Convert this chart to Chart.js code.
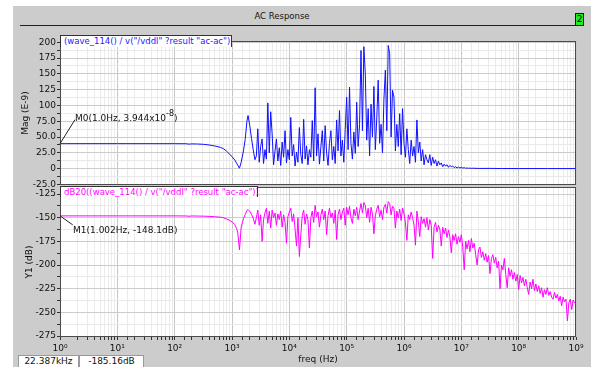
<!DOCTYPE html>
<html>
<head>
<meta charset="utf-8">
<script src="https://cdn.jsdelivr.net/npm/chart.js@4.4.1/dist/chart.umd.min.js"></script>
<style>
  html, body { margin:0; padding:0; width:591px; height:367px; overflow:hidden; background:#ffffff; font-family:"DejaVu Sans", sans-serif; }
  .abs { position:absolute; }
  #panel { left:13px; top:6px; width:578px; height:361px; background:#cccccc; }
  #title { left:200px; top:11px; width:164px; text-align:center; font-size:8.5px; line-height:11px; color:#111; }
  #titleRule { left:20px; top:25px; width:564px; height:1px; background:#202020; }
  #badge { left:575px; top:13px; width:9px; height:13px; box-sizing:border-box; background:#22ee22; border:1px solid #1a1a1a; font-size:9px; line-height:11px; text-align:center; color:#000; }
  canvas { position:absolute; left:0; }
  #magCanvas { top:20px; }
  #dbCanvas { top:180px; }
  .tab { background:#fff; border:1px solid #333; border-bottom:none; font-size:8.5px; line-height:10px; padding-left:3px; white-space:nowrap; box-sizing:border-box; overflow:hidden; }
  #magTab { left:60px; top:35px; width:172px; height:12px; color:#1a1aff; }
  #dbTab { left:60px; top:186px; width:198px; height:11px; color:#ff00ff; }
  .status { top:355px; height:12px; background:#fff; border:1px solid #999; border-bottom:none; box-sizing:border-box; font-size:9px; line-height:11px; text-align:center; color:#111; }
  #status1 { left:18px; width:61px; }
  #status2 { left:79px; width:65px; }
</style>
</head>
<body>
<div id="panel" class="abs"></div>
<div id="title" class="abs">AC Response</div>
<div id="titleRule" class="abs"></div>
<div id="badge" class="abs">2</div>
<canvas id="magCanvas" width="591" height="175"></canvas>
<canvas id="dbCanvas" width="591" height="187"></canvas>
<div id="magTab" class="abs tab">(wave_114() / v("/vddl" ?result "ac-ac"))</div>
<div id="dbTab" class="abs tab">dB20((wave_114() / v("/vddl" ?result "ac-ac")))</div>
<div id="status1" class="abs status">22.387kHz</div>
<div id="status2" class="abs status">-185.16dB</div>
<script>
// ---------------- data ----------------
// log10(frequency) of the smooth low-frequency part of the sweep
const lowFreqExp = [0,1,2,2.2,2.25,2.3,2.4,2.5,2.6,2.7,2.8,2.85,2.9,2.95,3.0,3.05,3.08,3.1,3.13,3.16,3.2,3.23,3.26,3.28,3.31,3.34,3.37,3.4];
// magnitude (E-9) on the low-frequency points
const magLow = [39.44,39.44,39.4,39.3,38.7,39.1,38.9,38.4,37.4,35.8,33.5,31.5,28,23.5,19,13.5,8.5,5.5,0.6,10,28,46,75,84,68,48,30,14];
// dB20 on the low-frequency points
const dbLow = [-148.1,-148.1,-148.1,-148.2,-148.5,-148.2,-148.3,-148.4,-148.6,-149.0,-149.5,-150.0,-151.2,-152.6,-154.4,-157.4,-161.4,-165.2,-184,-160,-151,-146.7,-142.5,-141.4,-143.3,-146.4,-150.5,-157];

// dense part of the sweep: starts at 10^3.425, one point every 0.025 decade
const noiseStartExp = 3.425;
const noiseStepExp = 0.025;
const magNoise = [
  20,63,10,35,47,8,30,15,104,25,
  90,55,6,28,47,12,33,5,42,18,
  60,9,30,14,81,20,38,4,26,10,
  65,22,8,78,15,36,6,30,18,76,
  12,128,20,55,7,34,60,12,68,25,
  5,40,60,14,35,8,77,28,92,20,
  45,10,62,113,30,129,40,15,58,24,
  105,35,70,187,60,193,150,45,95,20,
  102,50,130,30,80,140,40,70,25,110,
  156,60,195,182,50,124,113,28,70,35,
  87,22,95,40,18,63,30,8,45,20,
  35,10,77,25,42,12,30,6,22,14,
  9,22,5,18,8,14,4,12,6,9,
  3,7,4,6,2,5,3,4,1.5,3,
  1,2.5,1,2,0.8,1.5,0.5,1,0.4,0.8,
  0.3,0.6
];
const magTailExp = [7.3,7.5,7.7,8.0,8.5,9.0];
const magTail = [0.2,0.3,0.1,0.05,0.02,0];

const dbNoise = [
  -150,-142,-158,-147,-175,-152,-145,-140,-156,-143,
  -161,-142,-150,-145,-158,-146,-152,-143,-160,-147,
  -155,-177,-149,-144,-140,-154,-146,-162,-180,-150,
  -191,-168,-148,-142,-157,-146,-152,-182,-150,-143,
  -155,-137,-149,-144,-160,-147,-141,-152,-143,-168,
  -148,-140,-150,-145,-156,-142,-173,-147,-141,-152,
  -144,-140,-158,-139,-147,-138,-150,-156,-141,-148,
  -139,-152,-143,-135,-145,-134,-137,-150,-140,-155,
  -139,-146,-167,-148,-141,-137,-149,-142,-152,-139,
  -136,-145,-133,-135,-147,-138,-140,-161,-143,-150,
  -141,-153,-140,-146,-155,-174,-147,-152,-144,-150,
  -158,-179,-143,-154,-170,-149,-156,-151,-160,-150,
  -163,-152,-158,-193,-160,-155,-165,-158,-162,-180,
  -160,-167,-161,-171,-163,-170,-187,-168,-174,-167,
  -178,-170,-176,-168,-181,-205,-175,-183,-174,-186,
  -172,-182,-177,-189,-200,-184,-181,-192,-186,-195,
  -188,-197,-190,-209,-193,-189,-198,-192,-203,-196,
  -225,-200,-205,-193,-210,-224,-203,-212,-205,-215,
  -208,-217,-210,-226,-211,-219,-213,-222,-215,-224,
  -231,-218,-225,-215,-227,-220,-228,-222,-230,-224,
  -234,-226,-231,-224,-232,-228,-234,-236,-229,-235,
  -231,-238,-233,-243,-234,-239,-236,-259,-240,-236,
  -247,-237,-240,-238
];

// axis ticks
const magTickValues = [-25,0,25,50,75,100,125,150,175,200];
const magTickLabels = ['-25.0','0','25.0','50.0','75.0','100','125','150','175','200'];
const dbTickValues = [-275,-250,-225,-200,-175,-150,-125];
const dbTickLabels = ['-275','-250','-225','-200','-175','-150','-125'];
const superscriptDigits = ['⁰','¹','²','³','⁴','⁵','⁶','⁷','⁸','⁹'];

// markers
const markerNames = ['M0','M1'];
const markerFreqHz = [1.0, 1.002];
const markerValues = [39.44, -148.1];

// ---------------- build ----------------
Chart.defaults.font.family = '"DejaVu Sans", sans-serif';
Chart.defaults.font.size = 9;

function buildPoints(lowVals, noiseVals, tailExp, tailVals) {
  const pts = [];
  lowFreqExp.forEach((e, i) => pts.push({x: Math.pow(10, e), y: lowVals[i]}));
  noiseVals.forEach((v, i) => pts.push({x: Math.pow(10, noiseStartExp + i * noiseStepExp), y: v}));
  tailExp.forEach((e, i) => pts.push({x: Math.pow(10, e), y: tailVals[i]}));
  return pts;
}
function withMinor(majors) {
  const out = [];
  majors.forEach((v, i) => { out.push(v); if (i < majors.length - 1) out.push((v + majors[i + 1]) / 2); });
  return out;
}
function isDecade(v) { const l = Math.log10(v); return Math.abs(l - Math.round(l)) < 1e-6; }

const areaWhite = {
  id: 'areaWhite',
  beforeDraw(chart) {
    const a = chart.chartArea, c = chart.ctx;
    c.save(); c.fillStyle = '#ffffff'; c.fillRect(a.left, a.top, a.right - a.left, a.bottom - a.top); c.restore();
  }
};
const plotFrame = {
  id: 'plotFrame',
  afterDraw(chart) {
    const a = chart.chartArea, c = chart.ctx;
    c.save(); c.strokeStyle = '#4a4a4a'; c.lineWidth = 1;
    c.strokeRect(Math.round(a.left) + 0.5, Math.round(a.top) + 0.5, Math.round(a.right - a.left) - 1, Math.round(a.bottom - a.top) - 1);
    c.restore();
  }
};
const markerLabel = {
  id: 'markerLabel',
  afterDraw(chart, args, opts) {
    if (!opts || !opts.parts) return;
    const c = chart.ctx;
    const px = chart.scales.x.getPixelForValue(opts.freq);
    const py = chart.scales.y.getPixelForValue(opts.value);
    c.save();
    c.strokeStyle = '#222'; c.lineWidth = 1;
    c.beginPath(); c.moveTo(px, py); c.lineTo(px + opts.lineDx, py + opts.lineDy); c.stroke();
    c.fillStyle = '#111'; c.textAlign = 'left'; c.textBaseline = 'alphabetic';
    let x = px + opts.dx; const y = py + opts.dy;
    for (const p of opts.parts) {
      c.font = (p.sup ? '8px' : '9px') + ' "DejaVu Sans"';
      c.fillText(p.text, x, p.sup ? y - 5 : y);
      x += c.measureText(p.text).width;
    }
    c.restore();
  }
};

function makePlot(id, o) {
  const yAll = withMinor(o.yMajor);
  return new Chart(document.getElementById(id), {
    type: 'line',
    data: { datasets: [{ data: o.points, borderColor: o.color, borderWidth: 1, pointRadius: 0, fill: false, tension: 0 }] },
    options: {
      responsive: false, animation: false, events: [],
      layout: { padding: o.padding },
      plugins: { legend: { display: false }, tooltip: { enabled: false }, markerLabel: o.marker },
      scales: {
        x: {
          type: 'logarithmic', min: 1, max: 1e9,
          border: { display: false },
          grid: { color: c => (c.tick && isDecade(c.tick.value)) ? '#c6c6c6' : '#ebebeb', drawTicks: o.showX, tickLength: 3, tickColor: '#333' },
          ticks: { display: o.showX, autoSkip: false, maxRotation: 0, minRotation: 0, padding: 3, color: '#111',
            callback: v => isDecade(v) ? '10' + superscriptDigits[Math.round(Math.log10(v))] : '' },
          title: { display: o.showX, text: 'freq (Hz)', color: '#111', padding: { top: 0, bottom: 2 } },
          afterFit: s => { s.height = o.showX ? 30 : 0; }
        },
        y: {
          min: o.yMin, max: o.yMax,
          border: { display: false },
          afterBuildTicks: s => { s.ticks = yAll.map(v => ({ value: v })); },
          afterFit: s => { s.width = 60; },
          grid: { color: c => (c.tick && o.yMajor.includes(c.tick.value)) ? '#cccccc' : '#e9e9e9', tickLength: 3, tickColor: '#333' },
          ticks: { autoSkip: false, padding: 1, color: '#111',
            callback: v => { const i = o.yMajor.indexOf(v); return i < 0 ? '' : o.yLabels[i]; } },
          title: { display: true, text: o.yTitle, color: '#111', padding: { top: o.titlePad, bottom: 0 } }
        }
      }
    },
    plugins: [areaWhite, plotFrame, markerLabel]
  });
}

const m0Exp = Math.floor(Math.log10(markerValues[0] * 1e-9));
const m0Mant = (markerValues[0] * 1e-9 / Math.pow(10, m0Exp)).toFixed(3);

makePlot('magCanvas', {
  points: buildPoints(magLow, magNoise, magTailExp, magTail),
  color: '#1010ff',
  padding: { left: 0, right: 15, top: 21, bottom: 10 },
  showX: false,
  yMin: -26, yMax: 202,
  yMajor: magTickValues, yLabels: magTickLabels,
  yTitle: 'Mag (E-9)', titlePad: 20.5,
  marker: {
    freq: markerFreqHz[0], value: markerValues[0], dx: 15, dy: -22.5, lineDx: 15, lineDy: -24,
    parts: [ { text: markerNames[0] + '(' + markerFreqHz[0].toFixed(1) + 'Hz, ' + m0Mant + 'x10' },
             { text: String(m0Exp), sup: true }, { text: ')' } ]
  }
});

makePlot('dbCanvas', {
  points: buildPoints(dbLow, dbNoise, [], []),
  color: '#ff00ff',
  padding: { left: 0, right: 15, top: 7, bottom: 0 },
  showX: true,
  yMin: -276, yMax: -117.6,
  yMajor: dbTickValues, yLabels: dbTickLabels,
  yTitle: 'Y1 (dB)', titlePad: 24.5,
  marker: {
    freq: markerFreqHz[1], value: markerValues[1], dx: 13, dy: 17.3, lineDx: 12.7, lineDy: 9,
    parts: [ { text: markerNames[1] + '(' + markerFreqHz[1].toFixed(3) + 'Hz, ' + markerValues[1].toFixed(1) + 'dB)' } ]
  }
});
</script>
</body>
</html>
